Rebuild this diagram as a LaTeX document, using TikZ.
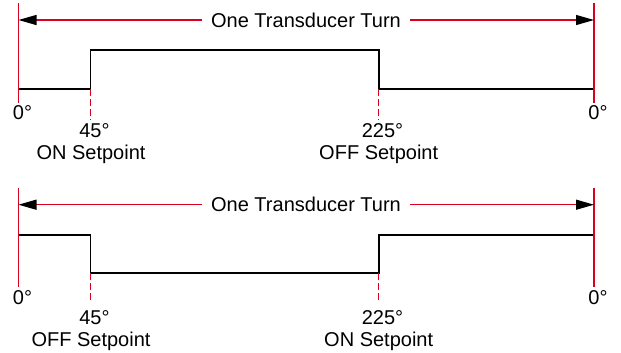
\documentclass[tikz,border=0pt]{standalone}
\usepackage{fontspec}
\setmainfont{Liberation Sans}
\usetikzlibrary{arrows.meta}
\definecolor{dimred}{RGB}{218,0,32}
\begin{document}
\begin{tikzpicture}[x=1bp,y=-1bp,
  font=\fontsize{20bp}{24bp}\selectfont,
  redline/.style={draw=dimred, line width=1.3bp},
  dashmark/.style={draw=dimred, line width=1.3bp, dash pattern=on 7bp off 3bp},
  signal/.style={draw=black, line width=1.6bp},
  dimarrow/.style={redline, {Triangle[length=18bp,width=10bp,color=black]}-{Triangle[length=18bp,width=10bp,color=black]}},
  turnlabel/.style={fill=white, inner xsep=9bp, inner ysep=2bp},
  lbl/.style={inner sep=0pt, anchor=base}]
\useasboundingbox (0,0) rectangle (621,352);

% ---------- top diagram ----------
\coordinate (t0a) at (18.5,3);   \coordinate (t0b) at (18.5,103);
\coordinate (t1a) at (594,3);    \coordinate (t1b) at (594,103);
\coordinate (tal) at (18.5,20);  \coordinate (tar) at (594,20);
\coordinate (ts0) at (18.5,89);  \coordinate (ts1) at (90.5,89);
\coordinate (ts2) at (90.5,50);  \coordinate (ts3) at (378.7,50);
\coordinate (ts4) at (378.7,89); \coordinate (ts5) at (594,89);
\coordinate (td1) at (90.5,120); \coordinate (td2) at (378.7,120);

\draw[signal] (ts0) -- (ts1) -- (ts2) -- (ts3) -- (ts4) -- (ts5);
\draw[dashmark] (ts1) -- (td1);
\draw[dashmark] (ts4) -- (td2);
\draw[redline] (t0a) -- (t0b);
\draw[redline] (t1a) -- (t1b);
\draw[dimarrow] (tal) -- (tar);
\node[turnlabel] (tturn) at (306,20) {One Transducer Turn};

\node[lbl] (tz0) at (22.5,119) {0°};
\node[lbl] (tz1) at (598,119) {0°};
\node[lbl] (t45) at (94.5,137) {45°};
\node[lbl] (tset1) at (91,159) {ON Setpoint};
\node[lbl] (t225) at (382.5,137) {225°};
\node[lbl] (tset2) at (378.7,159) {OFF Setpoint};

% ---------- bottom diagram ----------
\coordinate (b0a) at (18.5,188);  \coordinate (b0b) at (18.5,287);
\coordinate (b1a) at (594,188);   \coordinate (b1b) at (594,287);
\coordinate (bal) at (18.5,204.7); \coordinate (bar) at (594,204.7);
\coordinate (bs0) at (18.5,235);  \coordinate (bs1) at (90.5,235);
\coordinate (bs2) at (90.5,273);  \coordinate (bs3) at (378.7,273);
\coordinate (bs4) at (378.7,235); \coordinate (bs5) at (594,235);
\coordinate (bd1) at (90.5,303);  \coordinate (bd2) at (378.7,303);

\draw[signal] (bs0) -- (bs1) -- (bs2) -- (bs3) -- (bs4) -- (bs5);
\draw[dashmark] (bs2) -- (bd1);
\draw[dashmark] (bs3) -- (bd2);
\draw[redline] (b0a) -- (b0b);
\draw[redline] (b1a) -- (b1b);
\draw[dimarrow] (bal) -- (bar);
\node[turnlabel] (bturn) at (306,204.7) {One Transducer Turn};

\node[lbl] (bz0) at (22.5,304) {0°};
\node[lbl] (bz1) at (598,304) {0°};
\node[lbl] (b45) at (94.5,324) {45°};
\node[lbl] (bset1) at (91,346) {OFF Setpoint};
\node[lbl] (b225) at (382.5,324) {225°};
\node[lbl] (bset2) at (378.7,346) {ON Setpoint};
\end{tikzpicture}
\end{document}
